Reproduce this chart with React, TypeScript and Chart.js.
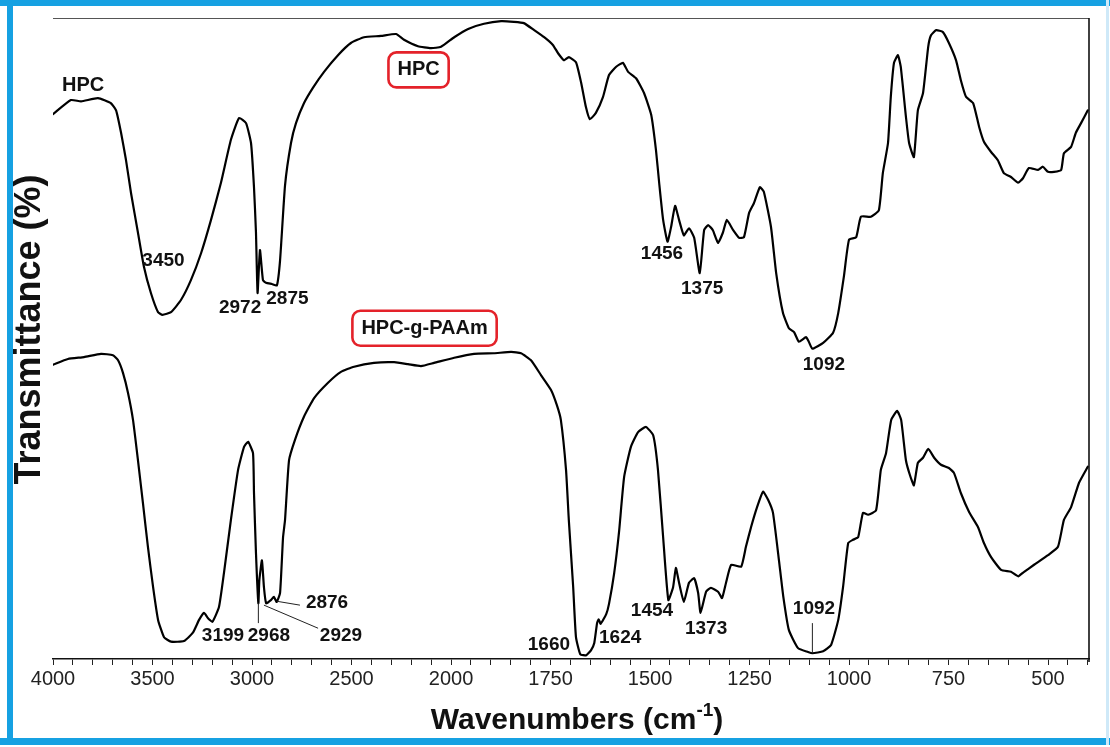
import { useEffect, useRef } from 'react';
import { Chart, LinearScale, LineController, LineElement, PointElement } from 'chart.js';

// ---- spectra: [wavenumber (cm-1), transmittance (a.u.)] ----
const hpcSpectrum: [number, number][] = [
  [4000, 85.0], [3910, 87.2], [3859, 87.0], [3774, 87.5], [3709, 86.7], [3683, 85.6], [3658, 82.1],
  [3633, 77.8], [3608, 72.7], [3573, 66.5], [3543, 61.2], [3508, 57.1], [3472, 54.1], [3450, 53.7],
  [3407, 54.1], [3357, 56.0], [3307, 59.1], [3256, 63.3], [3206, 68.5], [3156, 74.3], [3106, 81.0],
  [3065, 84.4], [3030, 83.6], [3005, 80.5], [2990, 73.6], [2980, 66.5], [2972, 57.1], [2960, 63.8],
  [2945, 59.1], [2930, 58.7], [2900, 58.5], [2875, 58.3], [2859, 62.2], [2834, 73.9], [2804, 80.5],
  [2779, 83.6], [2739, 86.7], [2694, 89.1], [2638, 91.6], [2568, 94.2], [2503, 96.1], [2437, 97.0],
  [2352, 97.2], [2276, 97.5], [2236, 96.6], [2166, 95.6], [2101, 95.3], [2050, 95.5], [1992, 97.0],
  [1957, 98.3], [1917, 99.1], [1874, 99.5], [1842, 99.4], [1817, 99.2], [1791, 98.1], [1766, 97.0],
  [1744, 95.8], [1731, 94.5], [1716, 93.4], [1704, 93.9], [1686, 93.1], [1673, 89.9], [1661, 86.1],
  [1651, 84.2], [1636, 85.2], [1618, 87.7], [1603, 91.1], [1585, 92.4], [1568, 93.0], [1555, 91.6],
  [1535, 90.6], [1515, 88.3], [1497, 84.9], [1485, 79.4], [1477, 74.3], [1467, 68.5], [1456, 65.1],
  [1447, 67.4], [1437, 70.7], [1427, 68.5], [1415, 66.1], [1402, 67.2], [1389, 65.7], [1375, 60.2],
  [1364, 66.9], [1354, 67.7], [1342, 66.9], [1329, 64.9], [1317, 66.5], [1307, 68.5], [1291, 66.9],
  [1276, 65.7], [1264, 65.8], [1251, 69.6], [1239, 71.1], [1224, 73.6], [1214, 72.9], [1196, 67.4],
  [1183, 60.2], [1166, 54.0], [1151, 51.6], [1138, 51.0], [1126, 49.5], [1108, 50.2], [1101, 49.5],
  [1092, 48.4], [1065, 49.3], [1040, 50.9], [1027, 54.0], [1013, 59.6], [1000, 65.4], [982, 65.8],
  [970, 69.0], [945, 69.0], [925, 70.0], [915, 75.8], [902, 80.5], [895, 87.7], [887, 93.0],
  [877, 94.2], [870, 92.4], [857, 84.6], [849, 80.5], [837, 78.3], [827, 85.6], [814, 88.3],
  [801, 95.5], [794, 97.3], [781, 98.1], [764, 97.8], [749, 96.1], [731, 93.4], [719, 90.3],
  [706, 87.7], [688, 86.7], [673, 83.0], [661, 80.7], [643, 79.1], [626, 77.8], [611, 75.8],
  [593, 75.2], [575, 74.3], [563, 75.0], [548, 76.6], [525, 76.3], [513, 76.8], [500, 76.0],
  [485, 76.0], [467, 76.3], [460, 78.9], [442, 79.9], [430, 82.1], [417, 83.6], [400, 85.6],
];

const graftSpectrum: [number, number][] = [
  [4000, 45.9], [3925, 46.8], [3844, 47.1], [3759, 47.6], [3699, 47.4], [3673, 46.6], [3648, 44.6],
  [3623, 41.5], [3598, 37.3], [3573, 31.0], [3548, 24.3], [3523, 17.5], [3497, 11.2], [3472, 6.1],
  [3442, 3.4], [3407, 2.7], [3342, 2.8], [3297, 4.1], [3266, 6.1], [3241, 7.2], [3222, 6.4],
  [3199, 5.8], [3166, 8.1], [3141, 13.4], [3106, 21.7], [3070, 29.5], [3040, 33.1], [3020, 33.9],
  [2995, 32.1], [2990, 25.9], [2980, 16.5], [2968, 8.7], [2963, 12.3], [2950, 15.4], [2940, 11.2],
  [2929, 8.7], [2905, 9.2], [2890, 9.7], [2876, 8.9], [2859, 10.3], [2844, 19.0], [2834, 21.7],
  [2814, 31.0], [2784, 34.2], [2739, 37.8], [2688, 40.7], [2618, 43.1], [2553, 44.8], [2487, 45.6],
  [2387, 46.2], [2286, 46.3], [2216, 46.0], [2151, 45.7], [2085, 46.2], [1992, 47.0], [1942, 47.6],
  [1892, 47.7], [1849, 47.9], [1824, 47.7], [1799, 46.6], [1774, 44.3], [1749, 42.0], [1734, 39.6],
  [1724, 37.3], [1711, 29.5], [1704, 21.7], [1693, 11.2], [1686, 3.4], [1675, 0.7], [1660, 0.6],
  [1648, 1.4], [1640, 2.5], [1633, 5.6], [1629, 6.2], [1624, 5.5], [1610, 7.0], [1603, 8.6],
  [1590, 13.4], [1578, 19.7], [1565, 28.4], [1548, 33.1], [1530, 35.4], [1510, 36.2], [1492, 34.9],
  [1480, 29.5], [1467, 19.0], [1454, 9.2], [1442, 11.2], [1435, 14.2], [1427, 11.9], [1415, 8.9],
  [1402, 11.9], [1389, 12.6], [1379, 10.3], [1373, 7.2], [1359, 10.5], [1347, 11.1], [1329, 10.5],
  [1319, 9.5], [1309, 11.9], [1296, 14.7], [1271, 14.4], [1259, 17.5], [1246, 20.6], [1231, 23.7],
  [1216, 26.1], [1203, 24.8], [1191, 22.8], [1176, 15.4], [1165, 9.7], [1151, 4.5], [1128, 1.7],
  [1103, 1.1], [1092, 0.9], [1065, 1.2], [1045, 2.2], [1027, 6.1], [1015, 11.2], [1002, 18.1],
  [990, 18.6], [977, 19.0], [965, 22.8], [952, 22.5], [932, 23.2], [920, 29.5], [907, 32.1],
  [894, 37.3], [879, 38.7], [869, 37.3], [857, 31.0], [847, 28.7], [837, 27.1], [827, 30.6],
  [814, 31.4], [801, 32.8], [786, 31.4], [769, 30.3], [749, 29.8], [736, 29.0], [719, 25.9],
  [698, 22.9], [676, 20.6], [661, 18.1], [643, 15.9], [618, 13.9], [593, 13.6], [575, 12.9],
  [560, 13.6], [535, 14.7], [500, 16.2], [475, 17.5], [460, 21.7], [442, 23.7], [422, 27.5],
  [400, 30.0],
];

// ---- axis ticks ----
const majorTicks = [4000, 3500, 3000, 2500, 2000, 1750, 1500, 1250, 1000, 750, 500];
const axisMin = 397;
const axisMax = 4000;
const axisBreak = 2000; // the scale doubles its resolution below this wavenumber

// ---- band assignments: [label, wavenumber, transmittance] of the text centre ----
const hpcPeakLabels: [string, number, number][] = [
  ['3450', 3445, 62.1],
  ['2972', 3060, 54.8],
  ['2875', 2822, 56.2],
  ['1456', 1470, 63.2],
  ['1375', 1369, 57.7],
  ['1092', 1063, 45.9],
];
const graftPeakLabels: [string, number, number][] = [
  ['3199', 3146, 3.7],
  ['2968', 2915, 3.7],
  ['2929', 2553, 3.7],
  ['2876', 2623, 8.7],
  ['1660', 1754, 2.2],
  ['1624', 1575, 3.3],
  ['1454', 1495, 7.5],
  ['1373', 1359, 4.7],
  ['1092', 1088, 7.8],
];
// leader lines: [from wavenumber, from T, to wavenumber, to T]
const graftLeaders: [number, number, number, number][] = [
  [2968, 8.7, 2968, 5.6],
  [2940, 8.4, 2668, 4.8],
  [2874, 9.0, 2759, 8.4],
  [1092, 5.6, 1092, 0.9],
];
// series names: [text, wavenumber, transmittance, boxed]
const seriesNames: [string, number, number, boolean][] = [
  ['HPC', 3849, 89.5, false],
  ['HPC', 2163, 91.9, true],
  ['HPC-g-PAAm', 2133, 51.6, true],
];

const FONT = "'Liberation Sans', Arial, Helvetica, sans-serif";
const FRAME_BLUE = '#16a1e2';

// position of a wavenumber on a split axis: 500 cm-1 per division above the break, 250 below
const HIGH_STEP = 500;
const LOW_STEP = 250;
function toUnits(w: number): number {
  return w >= axisBreak
    ? (axisMax - w) / HIGH_STEP
    : (axisMax - axisBreak) / HIGH_STEP + (axisBreak - w) / LOW_STEP;
}
function fromUnits(u: number): number {
  const uBreak = (axisMax - axisBreak) / HIGH_STEP;
  return u <= uBreak ? axisMax - u * HIGH_STEP : axisBreak - (u - uBreak) * LOW_STEP;
}

class SplitWavenumberScale extends LinearScale {
  static id = 'splitWavenumber';
  static defaults = {};

  buildTicks() {
    const ticks: { value: number }[] = [];
    for (let w = axisMax; w >= axisBreak; w -= 100) ticks.push({ value: w });
    for (let w = axisBreak - 50; w >= this.min; w -= 50) ticks.push({ value: w });
    return ticks as any;
  }

  getPixelForValue(value: number) {
    if (value === null || value === undefined || isNaN(value)) return NaN;
    const a = toUnits(this.max);
    const b = toUnits(this.min);
    return this.getPixelForDecimal((toUnits(value) - a) / (b - a));
  }

  getValueForPixel(pixel: number) {
    const a = toUnits(this.max);
    const b = toUnits(this.min);
    return fromUnits(a + this.getDecimalForPixel(pixel) * (b - a));
  }
}

Chart.register(LineController, LineElement, PointElement, LinearScale, SplitWavenumberScale);

const decorPlugin = {
  id: 'spectrumDecor',
  beforeDraw(chart: any) {
    const { ctx, width, height } = chart;
    ctx.save();
    ctx.fillStyle = '#ffffff';
    ctx.fillRect(0, 0, width, height);
    ctx.restore();
  },
  afterDraw(chart: any) {
    const { ctx, width, height, chartArea: area } = chart;
    const xs = chart.scales.x;
    const ys = chart.scales.y;
    const px = (w: number) => xs.getPixelForValue(w);
    const py = (t: number) => ys.getPixelForValue(t);
    ctx.save();

    // plot box
    ctx.strokeStyle = '#555';
    ctx.lineWidth = 1;
    ctx.beginPath();
    ctx.moveTo(area.left, area.top + 0.5);
    ctx.lineTo(area.right, area.top + 0.5);
    ctx.stroke();
    ctx.strokeStyle = '#111';
    ctx.lineWidth = 1.6;
    ctx.beginPath();
    ctx.moveTo(area.right, area.top);
    ctx.lineTo(area.right, area.bottom + 3);
    ctx.stroke();

    // peak labels
    ctx.fillStyle = '#111';
    ctx.textAlign = 'center';
    ctx.textBaseline = 'middle';
    ctx.font = `bold 19px ${FONT}`;
    for (const [text, w, t] of [...hpcPeakLabels, ...graftPeakLabels]) {
      ctx.fillText(text, px(w), py(t));
    }

    // leader lines
    ctx.strokeStyle = '#222';
    ctx.lineWidth = 1;
    for (const [w1, t1, w2, t2] of graftLeaders) {
      ctx.beginPath();
      ctx.moveTo(px(w1), py(t1));
      ctx.lineTo(px(w2), py(t2));
      ctx.stroke();
    }

    // sample names
    ctx.font = `bold 20px ${FONT}`;
    for (const [text, w, t, boxed] of seriesNames) {
      const cx = px(w);
      const cy = py(t);
      ctx.fillStyle = '#111';
      ctx.fillText(text, cx, cy);
      if (boxed) {
        const bw = ctx.measureText(text).width + 18;
        const bh = 35;
        ctx.strokeStyle = '#e4222a';
        ctx.lineWidth = 2.6;
        ctx.beginPath();
        ctx.roundRect(cx - bw / 2, cy - bh / 2, bw, bh, 8);
        ctx.stroke();
      }
    }

    // axis titles
    ctx.fillStyle = '#111';
    ctx.font = `bold 36px ${FONT}`;
    ctx.save();
    ctx.translate(30.5, (area.top + area.bottom) / 2 - 9);
    ctx.rotate(-Math.PI / 2);
    ctx.textAlign = 'center';
    ctx.textBaseline = 'middle';
    ctx.fillText('Transmittance (%)', 0, 0);
    ctx.restore();

    const main = 'Wavenumbers (cm';
    const sup = '-1';
    const tail = ')';
    ctx.textAlign = 'left';
    ctx.textBaseline = 'alphabetic';
    ctx.font = `bold 30px ${FONT}`;
    const wMain = ctx.measureText(main).width;
    const wTail = ctx.measureText(tail).width;
    ctx.font = `bold 19px ${FONT}`;
    const wSup = ctx.measureText(sup).width;
    const total = wMain + wSup + wTail;
    let x0 = (area.left + area.right) / 2 + 6 - total / 2;
    const base = area.bottom + 70;
    ctx.font = `bold 30px ${FONT}`;
    ctx.fillText(main, x0, base);
    x0 += wMain;
    ctx.font = `bold 19px ${FONT}`;
    ctx.fillText(sup, x0, base - 13);
    x0 += wSup;
    ctx.font = `bold 30px ${FONT}`;
    ctx.fillText(tail, x0, base);

    // outer frame
    ctx.fillStyle = FRAME_BLUE;
    ctx.fillRect(0, 0, width, 6);
    ctx.fillRect(7, 0, 6, height - 2);
    ctx.fillRect(0, height - 9, width, 7);
    ctx.fillStyle = '#cfe9f8';
    ctx.fillRect(width - 4, 0, 3, height - 2);
    ctx.restore();
  },
};

export default function App() {
  const canvasRef = useRef<HTMLCanvasElement | null>(null);

  useEffect(() => {
    const canvas = canvasRef.current;
    if (!canvas) return;
    const toPoints = (s: [number, number][]) => s.map(([x, y]) => ({ x, y }));
    const chart = new Chart(canvas, {
      type: 'line',
      data: {
        datasets: [
          { label: 'HPC', data: toPoints(hpcSpectrum), borderColor: '#000', borderWidth: 2.2 },
          { label: 'HPC-g-PAAm', data: toPoints(graftSpectrum), borderColor: '#000', borderWidth: 2.2 },
        ],
      },
      options: {
        responsive: false,
        animation: false,
        events: [],
        layout: { padding: { left: 53, right: 21, top: 18, bottom: 0 } },
        elements: {
          point: { radius: 0 },
          line: { tension: 0.15, borderJoinStyle: 'round', borderCapStyle: 'round' },
        },
        plugins: { legend: { display: false }, tooltip: { enabled: false } },
        scales: {
          x: {
            type: 'splitWavenumber' as any,
            position: 'bottom',
            min: axisMin,
            max: axisMax,
            afterFit: (scale: any) => {
              scale.height = 88;
            },
            grid: {
              display: true,
              drawOnChartArea: false,
              drawTicks: true,
              tickLength: 6,
              color: '#222',
              lineWidth: 1,
            },
            border: { display: true, color: '#111', width: 1.6 },
            ticks: {
              autoSkip: false,
              maxRotation: 0,
              padding: 2,
              color: '#222',
              font: { family: FONT, size: 20 },
              callback: (value: any) => (majorTicks.includes(Number(value)) ? String(value) : ''),
            },
          },
          y: {
            type: 'linear',
            min: 0,
            max: 100,
            display: false,
          },
        },
      },
      plugins: [decorPlugin],
    } as any);
    return () => chart.destroy();
  }, []);

  return (
    <div style={{ position: 'fixed', left: 0, top: 0, width: 1110, height: 747, background: '#fff' }}>
      <canvas ref={canvasRef} width={1110} height={747} style={{ display: 'block', width: 1110, height: 747 }} />
    </div>
  );
}
